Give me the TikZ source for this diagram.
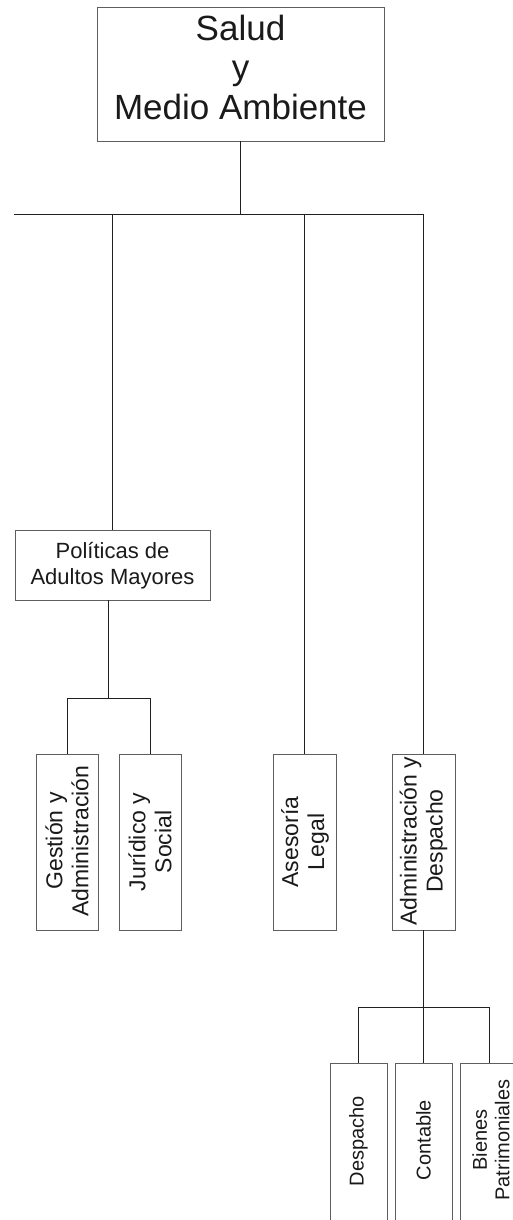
\documentclass[tikz,border=0pt]{standalone}
\usepackage{fontspec}
\setmainfont{Liberation Sans}
\definecolor{linec}{HTML}{231F20}
\definecolor{boxc}{HTML}{5E5E5E}
\definecolor{txtc}{HTML}{1A1A1A}
\begin{document}
\begin{tikzpicture}[x=1pt,y=-1pt,
  orgbox/.style={draw=boxc, line width=1pt, fill=none, inner sep=0pt, outer sep=0pt},
  conn/.style={draw=linec, line width=1pt},
  lbl/.style={text=txtc, align=center, inner sep=0pt},
  big/.style={lbl, font=\fontsize{35}{39.5}\selectfont},
  mid/.style={lbl, font=\fontsize{22}{26}\selectfont},
  vert/.style={lbl, rotate=90, font=\fontsize{23}{26}\selectfont},
  vsmall/.style={lbl, rotate=90, font=\fontsize{20}{22.5}\selectfont}]
\useasboundingbox (0,0) rectangle (512,1220);
\fill[white] (0,0) rectangle (512,1220);

% boxes
\node[orgbox, minimum width=287pt, minimum height=133pt] (top) at (240.5,74.5) {};
\node[big] (topT) at (240.5,67) {Salud\\y\\Medio Ambiente};

\node[orgbox, minimum width=195pt, minimum height=70pt] (pol) at (112.5,565) {};
\node[mid] (polT) at (112.5,565.5) {Políticas de\\Adultos Mayores};

\node[orgbox, minimum width=62pt, minimum height=176pt] (gest) at (67,842) {};
\node[vert] (gestT) at (67,841) {Gestión y\\Administración};
\node[orgbox, minimum width=62pt, minimum height=176pt] (jur) at (150,842) {};
\node[vert] (jurT) at (150,842) {Jurídico y\\Social};
\node[orgbox, minimum width=63pt, minimum height=176pt] (ase) at (304.5,842) {};
\node[vert] (aseT) at (305,842) {Asesoría\\Legal};
\node[orgbox, minimum width=63pt, minimum height=176pt] (adm) at (423.5,842) {};
\node[vert] (admT) at (423.5,841) {Administración y\\Despacho};

\node[orgbox, minimum width=57pt, minimum height=159pt] (desp) at (358.5,1142.5) {};
\node[vsmall] (despT) at (358.5,1141) {Despacho};
\node[orgbox, minimum width=57pt, minimum height=159pt] (cont) at (423.5,1142.5) {};
\node[vsmall] (contT) at (423.5,1140) {Contable};
\node[orgbox, minimum width=58pt, minimum height=159pt] (bien) at (489,1142.5) {};
\node[vsmall] (bienT) at (491,1140) {Bienes\\Patrimoniales};

% connectors
\coordinate (h0) at (240.5,214);
\coordinate (L) at (14,214);
\draw[conn] (top.south) -- (h0);
\draw[conn] (L) -- (L -| adm.north);
\draw[conn] (L -| pol.north) -- (pol.north);
\draw[conn] (L -| ase.north) -- (ase.north);
\draw[conn] (L -| adm.north) -- (adm.north);

\coordinate (b1) at (108.5,698);
\draw[conn] (b1 |- pol.south) -- (b1);
\draw[conn] (gest.north) -- (gest.north |- b1) -- (jur.north |- b1) -- (jur.north);

\coordinate (b2) at (423.5,1007);
\draw[conn] (adm.south) -- (b2);
\draw[conn] (desp.north) -- (desp.north |- b2) -- (bien.north |- b2) -- (bien.north);
\draw[conn] (b2) -- (cont.north);
\end{tikzpicture}
\end{document}
